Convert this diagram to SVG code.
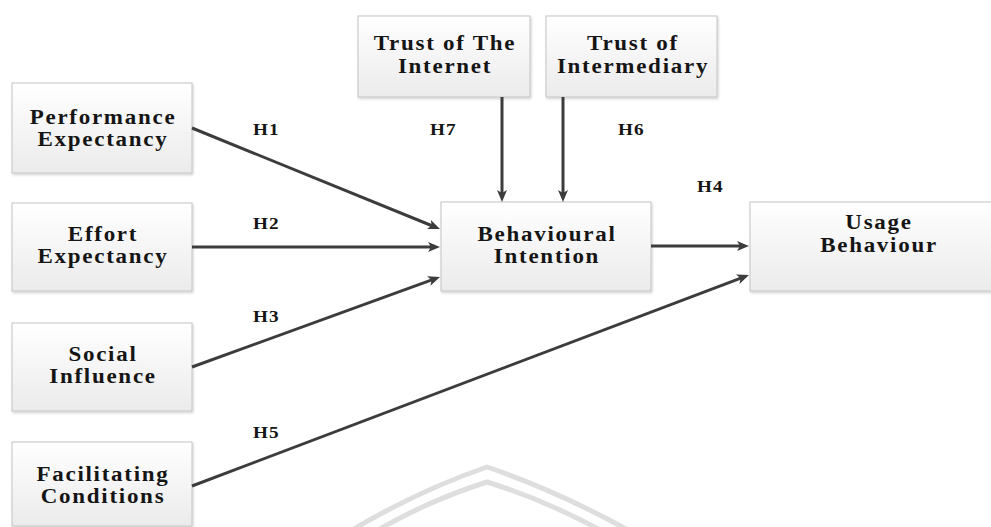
<svg xmlns="http://www.w3.org/2000/svg" width="991" height="527" viewBox="0 0 991 527">
  <defs>
    <linearGradient id="boxFill" x1="0" y1="0" x2="0" y2="1">
      <stop offset="0" stop-color="#ffffff"/>
      <stop offset="1" stop-color="#ebebeb"/>
    </linearGradient>
    <filter id="shadow" x="-5%" y="-5%" width="112%" height="115%">
      <feDropShadow dx="1" dy="1.5" stdDeviation="1" flood-color="#000" flood-opacity="0.18"/>
    </filter>
    <marker id="arrow" markerUnits="userSpaceOnUse" markerWidth="14" markerHeight="12" refX="4" refY="5" orient="auto">
      <path d="M0,0 L12,5 L0,10 L3,5 Z" fill="#3c3c3c"/>
    </marker>
  </defs>
  <style>
    .box { fill: url(#boxFill); stroke: #c4c4c4; stroke-width: 1; filter: url(#shadow); }
    .label { font-family: "Liberation Serif", "Times New Roman", serif; font-weight: bold; font-size: 20px; letter-spacing: 1.5px; fill: #151515; text-anchor: middle; }
    .hyp { font-family: "Liberation Serif", "Times New Roman", serif; font-weight: bold; font-size: 16px; letter-spacing: 1px; fill: #151515; }
    .link { stroke: #3c3c3c; stroke-width: 3; fill: none; marker-end: url(#arrow); }
    .mark { stroke: #dedede; stroke-width: 5; fill: none; }
  </style>

  <rect width="991" height="527" fill="#ffffff"/>

  <!-- faint emblem outline near the bottom edge -->
  <g id="emblem">
    <path class="mark" d="M352,530 Q420,490 487,467 Q555,490 628,530"/>
    <path class="mark" d="M378,530 Q430,500 487,482 Q545,500 600,530"/>
  </g>

  <!-- node captions use a wide, spaced serif: glyphs stretched 1.15x horizontally -->
  <g id="node-performance">
    <rect class="box" x="12" y="83" width="180" height="90"/>
    <text class="label" transform="matrix(1.15 0 0 1 103 124)">Performance</text>
    <text class="label" transform="matrix(1.15 0 0 1 103 146)">Expectancy</text>
  </g>
  <g id="node-effort">
    <rect class="box" x="12" y="203" width="180" height="88"/>
    <text class="label" transform="matrix(1.15 0 0 1 103 241)">Effort</text>
    <text class="label" transform="matrix(1.15 0 0 1 103 263)">Expectancy</text>
  </g>
  <g id="node-social">
    <rect class="box" x="12" y="323" width="180" height="88"/>
    <text class="label" transform="matrix(1.15 0 0 1 103 361)">Social</text>
    <text class="label" transform="matrix(1.15 0 0 1 103 383)">Influence</text>
  </g>
  <g id="node-facilitating">
    <rect class="box" x="12" y="442" width="180" height="84"/>
    <text class="label" transform="matrix(1.15 0 0 1 103 481)">Facilitating</text>
    <text class="label" transform="matrix(1.15 0 0 1 103 503)">Conditions</text>
  </g>
  <g id="node-trust-internet">
    <rect class="box" x="358" y="16" width="172" height="81"/>
    <text class="label" transform="matrix(1.15 0 0 1 445 50)">Trust of The</text>
    <text class="label" transform="matrix(1.15 0 0 1 445 73)">Internet</text>
  </g>
  <g id="node-trust-intermediary">
    <rect class="box" x="546" y="16" width="171" height="81"/>
    <text class="label" transform="matrix(1.15 0 0 1 633 50)">Trust of</text>
    <text class="label" transform="matrix(1.15 0 0 1 633 73)">Intermediary</text>
  </g>
  <g id="node-intention">
    <rect class="box" x="441" y="202" width="210" height="89"/>
    <text class="label" transform="matrix(1.15 0 0 1 547 241)">Behavioural</text>
    <text class="label" transform="matrix(1.15 0 0 1 547 263)">Intention</text>
  </g>
  <g id="node-usage">
    <rect class="box" x="750" y="202" width="242" height="89"/>
    <text class="label" transform="matrix(1.15 0 0 1 879 229)">Usage</text>
    <text class="label" transform="matrix(1.15 0 0 1 879 252)">Behaviour</text>
  </g>

  <g id="connectors">
    <line class="link" x1="192" y1="128" x2="432.6" y2="226"/>
    <line class="link" x1="192" y1="247" x2="432" y2="247"/>
    <line class="link" x1="192" y1="367" x2="432.5" y2="279.7"/>
    <line class="link" x1="651" y1="246" x2="741" y2="246"/>
    <line class="link" x1="192" y1="486" x2="741.5" y2="277.8"/>
    <line class="link" x1="502" y1="97" x2="502" y2="194"/>
    <line class="link" x1="563" y1="97" x2="563" y2="194"/>
  </g>

  <g id="hypotheses">
    <text class="hyp" transform="matrix(1.2 0 0 1 253 135)">H1</text>
    <text class="hyp" transform="matrix(1.2 0 0 1 253 229)">H2</text>
    <text class="hyp" transform="matrix(1.2 0 0 1 253 322)">H3</text>
    <text class="hyp" transform="matrix(1.2 0 0 1 697 192)">H4</text>
    <text class="hyp" transform="matrix(1.2 0 0 1 253 438)">H5</text>
    <text class="hyp" transform="matrix(1.2 0 0 1 618 135)">H6</text>
    <text class="hyp" transform="matrix(1.2 0 0 1 430 135)">H7</text>
  </g>
</svg>
